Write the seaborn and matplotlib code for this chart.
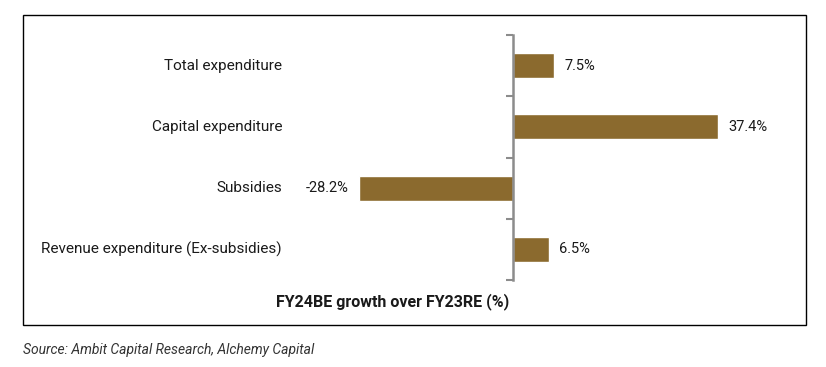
import matplotlib
matplotlib.use("Agg")
import matplotlib.pyplot as plt
import matplotlib.transforms as mtransforms
from matplotlib.patches import Rectangle
import seaborn as sns
import pandas as pd

# data
categories = ["Total expenditure", "Capital expenditure", "Subsidies",
              "Revenue expenditure (Ex-subsidies)"]
growth = [7.5, 37.4, -28.2, 6.5]
value_labels = ["7.5%", "37.4%", "-28.2%", "6.5%"]

df = pd.DataFrame({"category": categories, "growth": growth})

sns.set_style("white")
plt.rcParams["font.family"] = ["Roboto", "DejaVu Sans"]

bar_color = "#8B6A2E"
axis_gray = "#8C8C8C"

fig = plt.figure(figsize=(8.26, 3.67), dpi=100)
W, H = 826, 367
ax = fig.add_axes([294 / W, 1 - 280 / H, (787 - 294) / W, (280 - 35) / H])

sns.barplot(data=df, x="growth", y="category", color=bar_color,
            width=0.41, saturation=1, ax=ax, orient="h")

ax.set_xlim(-40, 50)
ax.set_ylim(3.5, -0.5)
for s in ["top", "right", "bottom"]:
    ax.spines[s].set_visible(False)
ax.spines["left"].set_position(("data", 0))
ax.spines["left"].set_color(axis_gray)
ax.spines["left"].set_linewidth(1.8)
ax.set_xticks([])
ax.set_yticks([i - 0.5 for i in range(len(categories) + 1)])
ax.set_yticklabels([])
ax.tick_params(axis="y", left=True, direction="out", length=5, width=1.5,
               color=axis_gray)
ax.set_xlabel("")
ax.set_ylabel("")

# category labels on the far left
trans = mtransforms.blended_transform_factory(fig.transFigure, ax.transData)
for i, cat in enumerate(categories):
    ax.text(282 / W, i, cat, transform=trans, ha="right", va="center",
            fontsize=11, color="#1a1a1a")

# value labels next to bars
for i, (v, lab) in enumerate(zip(growth, value_labels)):
    off = 1.9 if v >= 0 else -1.9
    ax.text(v + off, i, lab, ha="left" if v >= 0 else "right", va="center",
            fontsize=10.5, color="#1a1a1a")

fig.text(393 / W, 1 - 302 / H, "FY24BE growth over FY23RE (%)", ha="center",
         va="center", fontsize=11.5, fontweight="bold", color="#1a1a1a")

# outer frame
fig.patches.append(Rectangle((23 / W, 1 - 325 / H), (806 - 23) / W, (325 - 15) / H,
                             transform=fig.transFigure, fill=False,
                             edgecolor="black", linewidth=1.0))

fig.text(23 / W, 1 - 350 / H, "Source: Ambit Capital Research, Alchemy Capital",
         ha="left", va="center", fontsize=10, style="italic", color="#333333")

fig.savefig("out.png", dpi=100)
